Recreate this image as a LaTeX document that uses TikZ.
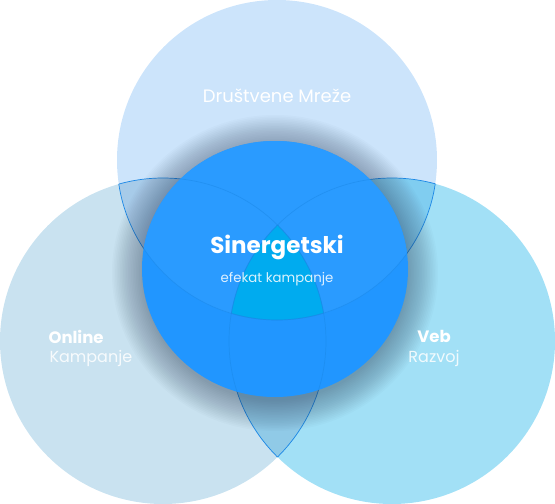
\documentclass[tikz,border=0pt]{standalone}
\usepackage{fontspec}
\setmainfont{Poppins}

\definecolor{topfill}{HTML}{CCE4FB}
\definecolor{leftfill}{HTML}{C9E2F0}
\definecolor{rightfill}{HTML}{A2E0F6}
\definecolor{topleftfill}{HTML}{A7CBE9}
\definecolor{toprightfill}{HTML}{80CDF0}
\definecolor{leftrightfill}{HTML}{90CAE7}
\definecolor{midfill}{HTML}{2196FF}
\definecolor{midtopfill}{HTML}{2A9BFF}
\definecolor{corefill}{HTML}{00ABEF}
\definecolor{lensline}{HTML}{1A87E6}
\definecolor{shadowfill}{HTML}{2A3A55}

\newcommand{\krugTop}{(277,160) circle (160pt)}
\newcommand{\krugLeft}{(163,341) circle (163pt)}
\newcommand{\krugRight}{(392,341) circle (163pt)}
\newcommand{\krugMid}{(275,269) ellipse (133pt and 128pt)}

\tikzset{
  lens/.style={draw=lensline, line width=0.7pt},
  title/.style={text=white, font=\bfseries\fontsize{23}{27}\selectfont},
  subtitle/.style={text=white, text opacity=0.85, font=\fontsize{13.3}{16}\selectfont},
  setname/.style={text=white, font=\fontsize{18}{21}\selectfont},
  boldname/.style={text=white, font=\bfseries\fontsize{16.5}{19}\selectfont},
  thinname/.style={text=white, text opacity=0.85, font=\fontsize{16}{19}\selectfont}
}

\begin{document}
\begin{tikzpicture}[x=1pt,y=-1pt]
  \useasboundingbox (0,0) rectangle (555,504);

  % outer circles
  \fill[leftfill] \krugLeft;
  \fill[rightfill] \krugRight;
  \fill[topfill] \krugTop;

  % overlaps
  \begin{scope} \clip \krugTop; \fill[topleftfill] \krugLeft; \end{scope}
  \begin{scope} \clip \krugTop; \fill[toprightfill] \krugRight; \end{scope}
  \begin{scope} \clip \krugLeft; \fill[leftrightfill] \krugRight; \end{scope}

  % lens edges
  \begin{scope} \clip \krugLeft; \draw[lens] \krugTop; \draw[lens] \krugRight; \end{scope}
  \begin{scope} \clip \krugRight; \draw[lens] \krugTop; \draw[lens] \krugLeft; \end{scope}
  \begin{scope} \clip \krugTop; \draw[lens] \krugLeft; \draw[lens] \krugRight; \end{scope}

  % shadow of the middle circle
  \foreach \s in {1,...,20}
    \fill[shadowfill, opacity=0.022] (275,273)
      ellipse [x radius={131pt+1.6pt*\s}, y radius={126pt+1.6pt*\s}];

  % middle circle
  \fill[midfill] \krugMid;
  \begin{scope}
    \clip \krugMid;
    \fill[midtopfill] \krugTop;
    \begin{scope} \clip \krugTop; \clip \krugLeft; \fill[corefill] \krugRight; \end{scope}
    \begin{scope}[opacity=0.5]
      \begin{scope} \clip \krugLeft; \draw[lens] \krugTop; \draw[lens] \krugRight; \end{scope}
      \begin{scope} \clip \krugRight; \draw[lens] \krugTop; \draw[lens] \krugLeft; \end{scope}
      \begin{scope} \clip \krugTop; \draw[lens] \krugLeft; \draw[lens] \krugRight; \end{scope}
    \end{scope}
  \end{scope}

  \node[setname] (mreze) at (277,96) {Društvene Mreže};
  \node[title] (sinergija) at (277,247) {Sinergetski};
  \node[subtitle] (efekat) at (277,279) {efekat kampanje};
  \node[boldname, anchor=west] (online) at (45,337) {Online};
  \node[thinname, anchor=west] (kampanje) at (46,358) {Kampanje};
  \node[boldname] (veb) at (434,336) {Veb};
  \node[thinname] (razvoj) at (434,358) {Razvoj};
\end{tikzpicture}
\end{document}
